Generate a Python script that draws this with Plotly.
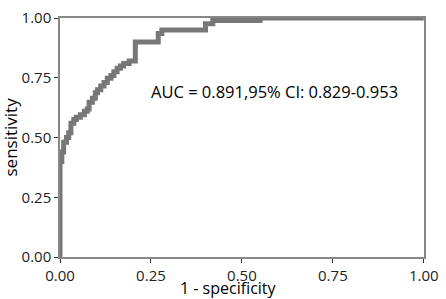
import plotly.graph_objects as go

fpr = [0, 0, 0.005, 0.01, 0.018, 0.024, 0.03, 0.038, 0.045, 0.056, 0.067, 0.075, 0.08, 0.089, 0.097,
       0.103, 0.112, 0.121, 0.13, 0.14, 0.148, 0.157, 0.166, 0.175, 0.19, 0.207, 0.207, 0.27, 0.28,
       0.40, 0.42, 0.55, 0.82, 1.0]
tpr = [0, 0.336, 0.40, 0.44, 0.48, 0.50, 0.52, 0.56, 0.576, 0.585, 0.596, 0.61, 0.62, 0.648, 0.665,
       0.688, 0.70, 0.716, 0.73, 0.748, 0.76, 0.776, 0.79, 0.80, 0.81, 0.82, 0.90, 0.90, 0.936,
       0.95, 0.976, 0.99, 1.0, 1.0]
tick_vals = [0, 0.25, 0.5, 0.75, 1.0]
tick_text = ["0.00", "0.25", "0.50", "0.75", "1.00"]
auc_label = "AUC = 0.891,95% CI: 0.829-0.953"
x_title = "1 - specificity"
y_title = "sensitivity"

FONT = "Open Sans"
fig = go.Figure()
fig.add_trace(go.Scatter(x=fpr, y=tpr, mode="lines", line=dict(color="#777777", width=5, shape="vh"),
                         showlegend=False, hoverinfo="skip", cliponaxis=False))
fig.add_annotation(x=0.589, y=0.692, xref="x", yref="y", text=auc_label, showarrow=False,
                   font=dict(family=FONT, size=16.5, color="black"))
fig.add_annotation(x=0.462, y=0, xref="x", yref="paper", yshift=-31, yanchor="middle", text=x_title,
                   showarrow=False, borderpad=0, font=dict(family=FONT, size=16, color="black"))
fig.add_annotation(x=0, y=0.5, xref="paper", yref="paper", xshift=-50, xanchor="center", text=y_title,
                   textangle=-90, showarrow=False, font=dict(family=FONT, size=17, color="black"))

axis_common = dict(range=[0, 1.0005], tickvals=tick_vals, ticktext=tick_text, showgrid=False, zeroline=False,
                   showline=True, linecolor="#888888", linewidth=1.5, mirror=True, ticks="outside",
                   ticklen=4, tickcolor="#333333", ticklabeloverflow="allow",
                   tickfont=dict(family=FONT, size=15, color="#222222"))
fig.update_xaxes(**axis_common)
fig.update_yaxes(**axis_common)
fig.update_layout(width=446, height=299, margin=dict(l=60, r=15, t=7, b=42),
                  plot_bgcolor="white", paper_bgcolor="white")
fig.write_html("out.html", config={"displayModeBar": False},
               post_script="document.body.style.margin='0';")
